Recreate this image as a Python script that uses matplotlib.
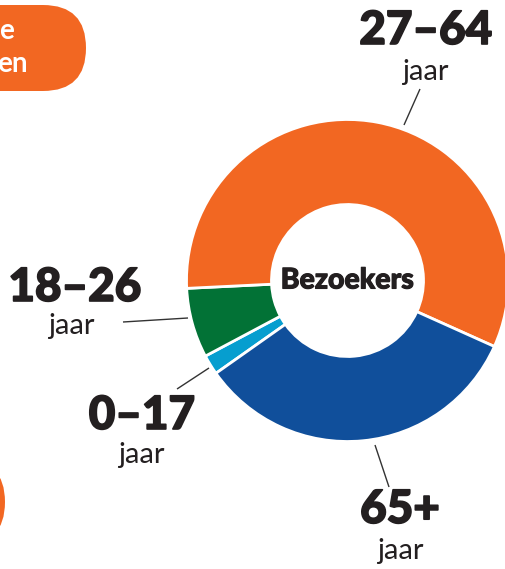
from matplotlib import pyplot as plt
from matplotlib import patheffects as pe
from matplotlib.patches import FancyBboxPatch

# Data
age_groups = ['0–17', '18–26', '27–64', '65+']
shares = [2, 7, 57.5, 33.5]
colors = ['#069ECF', '#027236', '#F26722', '#104F9B']

W, H = 505, 569
ORANGE = '#F26722'
DARK = '#231F20'


def y(px):
    """Convert a pixel row (from the top) into data y."""
    return H - px


def main():
    fig = plt.figure(figsize=(W / 100, H / 100), dpi=100)
    ax = fig.add_axes([0, 0, 1, 1])
    heavy = [pe.withStroke(linewidth=1.2, foreground=DARK)]

    # Donut
    cx, cy, r_out, r_in = 347.5, y(280.5), 161, 76
    ax.pie(shares, colors=colors, center=(cx, cy), radius=r_out,
           startangle=215.2, counterclock=False,
           wedgeprops=dict(width=r_out - r_in, edgecolor='white',
                           linewidth=2))
    ax.text(cx, cy, 'Bezoekers', ha='center', va='center',
            fontsize=20.5, fontweight='black', family='Lato', color=DARK,
            path_effects=[pe.withStroke(linewidth=0.8, foreground=DARK)])

    # Labels and leader lines
    labels = [
        (age_groups[0], 142, 416, 141, 455, (177, 389), (209, 368)),
        (age_groups[1], 75, 288, 71, 326, (123, 322), (188, 318)),
        (age_groups[2], 426, 31, 425, 72, (420, 89), (404, 125)),
        (age_groups[3], 400, 510, 400, 551, (389, 487), (375, 445)),
    ]
    for text, nx, ny, jx, jy, p1, p2 in labels:
        ax.text(nx, y(ny), text, ha='center', va='center', fontsize=33,
                fontweight='black', family='Lato', color=DARK,
                path_effects=heavy)
        ax.text(jx, y(jy), 'jaar', ha='center', va='center', fontsize=21,
                family='Lato', color=DARK)
        ax.plot([p1[0], p2[0]], [y(p1[1]), y(p2[1])], color='#333333',
                lw=1, solid_capstyle='butt')

    # Orange shapes cut off at the left edge
    ax.add_patch(FancyBboxPatch((-200, y(91)), 286, 86,
                                boxstyle='round,pad=0,rounding_size=43',
                                fc=ORANGE, ec='none'))
    ax.text(14, y(31), 'e', ha='right', va='center', fontsize=20,
            fontweight='bold', family='Lato', color='white')
    ax.text(28, y(64), 'en', ha='right', va='center', fontsize=20,
            fontweight='bold', family='Lato', color='white')
    ax.add_patch(FancyBboxPatch((-200, y(545)), 205, 86,
                                boxstyle='round,pad=0,rounding_size=43',
                                fc=ORANGE, ec='none'))

    ax.set_xlim(0, W)
    ax.set_ylim(0, H)
    ax.set_aspect('equal')
    ax.axis('off')
    fig.savefig('out.png', dpi=100)


if __name__ == "__main__":
    main()
